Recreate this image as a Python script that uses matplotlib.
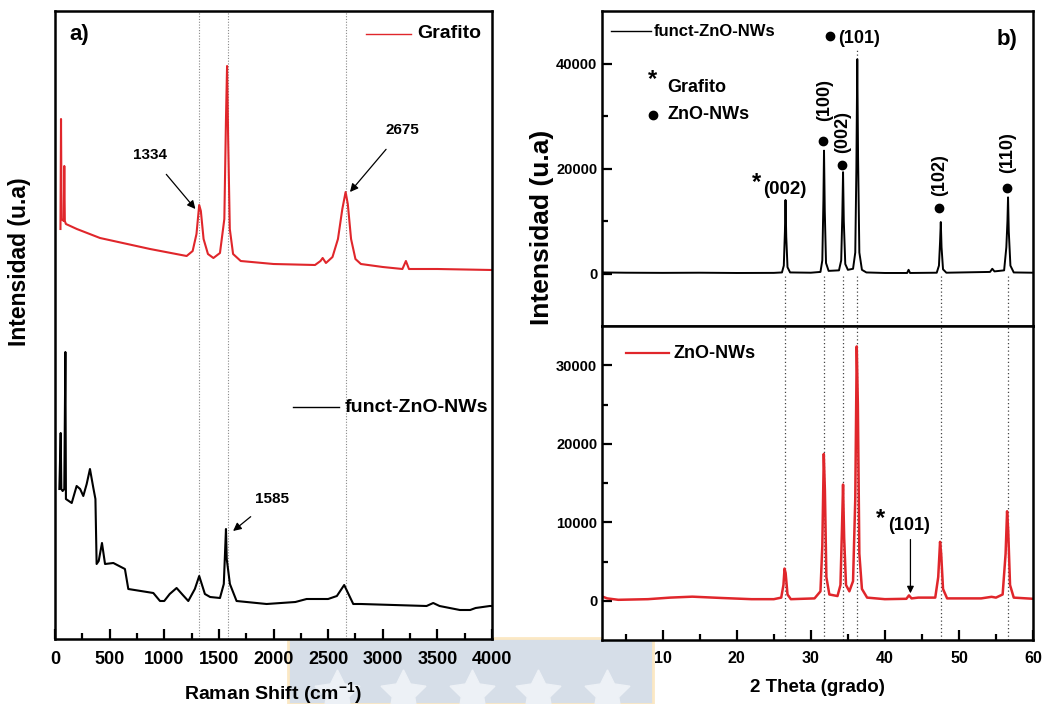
import matplotlib
matplotlib.use("Agg")
import matplotlib.pyplot as plt
from matplotlib.patches import Rectangle
from matplotlib.lines import Line2D

plt.rcParams['font.family'] = ['Liberation Sans', 'DejaVu Sans']
plt.rcParams['font.weight'] = 'bold'
plt.rcParams['mathtext.fontset'] = 'custom'
plt.rcParams['mathtext.rm'] = 'Liberation Sans:bold'
plt.rcParams['mathtext.bf'] = 'Liberation Sans:bold'
plt.rcParams['mathtext.default'] = 'bf'

# ---------------- Raman data (panel a) ----------------
raman_graf_x = [50, 55, 60, 80, 85, 90, 100, 200, 412, 870, 1205, 1260, 1295, 1320, 1335, 1360,
                1400, 1450, 1510, 1550, 1565, 1575, 1585, 1600, 1630, 1700, 2000, 2380, 2430,
                2450, 2480, 2540, 2590, 2630, 2660, 2680, 2710, 2750, 2800, 3000, 3180, 3212,
                3240, 3500, 4000]
raman_graf_y = [410, 520, 420, 418, 473, 418, 415, 410, 401, 390, 383, 388, 405, 434, 428, 400,
                385, 381, 386, 420, 520, 573, 500, 410, 385, 378, 375, 374, 378,
                381, 376, 382, 400, 430, 447, 435, 400, 380, 375, 372, 370, 378,
                370, 370, 369]

raman_func_x = [40, 52, 58, 70, 85, 95, 100, 153, 198, 230, 259, 290, 320, 351, 370, 381, 400,
                430, 458, 534, 640, 671, 900, 961, 1000, 1050, 1113, 1170, 1220, 1280, 1320,
                1372, 1420, 1510, 1545, 1565, 1572, 1601, 1662, 1937, 2200, 2303, 2500, 2580,
                2647, 2730, 2800, 3401, 3462, 3520, 3706, 3800, 3850, 3980, 4000]
raman_func_y = [150, 206, 150, 148, 150, 287, 140, 136, 153, 150, 143, 155, 170, 151, 140, 75, 78,
                96, 75, 76, 70, 50, 46, 38, 38, 45, 51, 44, 38, 50, 63,
                45, 42, 41, 55, 110, 80, 55, 38, 35, 37, 40, 40, 43,
                54, 35, 35, 33, 36, 33, 29, 29, 31, 33, 33]

raman_lines = [1320, 1583, 2660]

# ---------------- XRD data (panel b) ----------------
xrd_func_x = [1.8, 5, 10, 15, 20, 25, 26.1, 26.35, 26.5, 26.58, 26.68, 26.85, 27.2, 30, 31.3,
              31.55, 31.7, 31.78, 31.88, 32.05, 32.4, 33.8, 34.1, 34.25, 34.35, 34.45, 34.65,
              35.0, 35.7, 36.0, 36.15, 36.27, 36.38, 36.55, 36.9, 37.5, 40, 43.0, 43.2, 43.4,
              47.0, 47.3, 47.45, 47.55, 47.65, 47.85, 48.3, 54.2, 54.5, 54.8, 56.1, 56.4, 56.55,
              56.63, 56.73, 56.95, 57.4, 60]
xrd_func_y = [200, 150, 120, 150, 100, 120, 200, 1500, 8000, 14000, 7000, 1200, 200, 150, 300,
              2500, 14000, 23400, 12000, 2000, 500, 600, 2500, 11000, 19300, 10000, 1800,
              700, 900, 4000, 20000, 40800, 22000, 4000, 700, 200, 100, 100, 700, 100,
              150, 1500, 6000, 9800, 5000, 800, 150, 300, 900, 400, 600, 5000, 10000,
              14500, 8000, 1500, 200, 150]

xrd_zno_x = [1.8, 2.5, 4, 8, 11, 14, 18, 22, 25, 26.0, 26.3, 26.45, 26.6, 26.85, 27.3, 30.5,
             31.3, 31.55, 31.75, 31.9, 32.1, 32.5, 33.6, 34.0, 34.2, 34.35, 34.5, 34.75, 35.2,
             35.7, 36.0, 36.2, 36.35, 36.55, 36.9, 37.6, 40, 42.9, 43.25, 43.6, 44.5, 46.8,
             47.2, 47.45, 47.6, 47.85, 48.4, 53, 54.4, 55.0, 55.9, 56.3, 56.5, 56.65, 56.9,
             57.4, 60]
xrd_zno_y = [550, 300, 120, 200, 400, 520, 350, 200, 200, 400, 2000, 4100, 3500, 800, 200, 300,
             1200, 7000, 18700, 14000, 3000, 800, 600, 2000, 9000, 14800, 8000, 2000, 1200,
             2500, 13000, 32400, 25000, 6000, 1500, 400, 200, 250, 680, 300, 400, 400,
             3000, 7500, 6000, 1500, 300, 300, 500, 400, 800, 6000, 11400, 9000, 2000,
             400, 250]

xrd_lines = [26.5, 31.8, 34.4, 36.3, 47.6, 56.6]
zno_peak_labels = ['(100)', '(002)', '(102)', '(110)']
zno_label_x = [31.8, 34.35, 47.45, 56.55]
zno_dot_y = [25200, 20700, 12400, 16200]
zno_label_y = [33000, 27000, 18700, 23100]

W, H = 1047, 704
fig = plt.figure(figsize=(W / 100, H / 100), dpi=100)


def fx(px):
    return px / W


def fy(py):
    return 1 - py / H


def style_axes(ax):
    for s in ax.spines.values():
        s.set_linewidth(1.8)
    ax.tick_params(which='both', direction='in', width=1.6, labelsize=11)
    ax.tick_params(which='major', length=7)
    ax.tick_params(which='minor', length=4)


# ---------------- panel a ----------------
axa = fig.add_axes([fx(55), fy(639), fx(492 - 55), (639 - 11) / H])
axa.plot(raman_graf_x, raman_graf_y, color='#e0262b', lw=1.5)
axa.plot(raman_func_x, raman_func_y, color='black', lw=1.5)
for xv in raman_lines:
    axa.axvline(xv, color='#888888', lw=0.8, ls=(0, (1, 1.5)), zorder=0)
axa.set_xlim(0, 4000)
axa.set_ylim(0, 628)
axa.set_yticks([])
axa.set_xticks(range(0, 4001, 500))
axa.set_xticks(range(250, 4000, 500), minor=True)
style_axes(axa)
axa.tick_params(axis='x', labelsize=13, pad=9)
for lab in axa.get_xticklabels():
    lab.set_fontweight('bold')
axa.text(0.033, 0.963, 'a)', transform=axa.transAxes, fontsize=16, fontweight='bold',
         va='center', ha='left')
# legends
axa.plot([2850, 3260], [605, 605], color='#e0262b', lw=1.0)
axa.text(3320, 605, 'Grafito', fontsize=14, fontweight='bold', va='center')
axa.plot([2180, 2600], [232, 232], color='black', lw=1.0)
axa.text(2650, 232, 'funct-ZnO-NWs', fontsize=14, fontweight='bold', va='center')
# annotations
arrow = dict(arrowstyle='-|>', color='black', lw=0.9, mutation_scale=12)
axa.annotate('1334', xy=(1285, 430), xytext=(870, 484), fontsize=11, fontweight='bold',
             ha='center', va='center', arrowprops=dict(arrow, shrinkA=9, shrinkB=0))
axa.annotate('2675', xy=(2700, 447), xytext=(3180, 509), fontsize=11, fontweight='bold',
             ha='center', va='center', arrowprops=dict(arrow, shrinkA=9, shrinkB=0))
axa.annotate('1585', xy=(1630, 108), xytext=(1990, 140), fontsize=11, fontweight='bold',
             ha='center', va='center', arrowprops=dict(arrow, shrinkA=9, shrinkB=0))
fig.text(fx(20), fy(262), 'Intensidad (u.a)', rotation=90, fontsize=16.5, fontweight='bold',
         ha='center', va='center')
fig.text(fx(273), fy(693), r'Raman Shift (cm$^{-1}$)', fontsize=14, fontweight='bold',
         ha='center', va='center')

# ---------------- panel b ----------------
x0, x1 = 602, 1033
axt = fig.add_axes([fx(x0), fy(326), fx(x1 - x0), (326 - 11) / H])
axb = fig.add_axes([fx(x0), fy(640), fx(x1 - x0), (640 - 326) / H], sharex=axt)

axt.plot(xrd_func_x, xrd_func_y, color='black', lw=1.4)
axb.plot(xrd_zno_x, xrd_zno_y, color='#e0262b', lw=1.8)

for xv in xrd_lines:
    axt.vlines(xv, -10000, 0, color='#444444', lw=0.9, ls=(0, (1, 2)), zorder=0)
    axb.axvline(xv, color='#444444', lw=0.9, ls=(0, (1, 2)), zorder=0)
axt.vlines(36.3, 40800, 42500, color='#444444', lw=0.9, ls=(0, (1, 2)), zorder=0)

axt.set_xlim(1.8, 60)
axt.set_ylim(-10000, 50000)
axb.set_ylim(-5000, 35000)
axt.set_yticks([0, 20000, 40000])
axt.set_yticks([10000, 30000], minor=True)
axb.set_yticks([0, 10000, 20000, 30000])
axb.set_yticks([5000, 15000, 25000], minor=True)
axb.set_xticks([10, 20, 30, 40, 50, 60])
axb.set_xticks([5, 15, 25, 35, 45, 55], minor=True)
for ax in (axt, axb):
    style_axes(ax)
axt.tick_params(axis='x', which='both', bottom=False, labelbottom=False)
axt.tick_params(axis='y', labelsize=10.5)
axb.tick_params(axis='y', labelsize=10.5)
axb.tick_params(axis='x', labelsize=11.5, pad=8)
for ax in (axt, axb):
    for lab in ax.get_xticklabels() + ax.get_yticklabels():
        lab.set_fontweight('bold')

# top annotations
axt.plot([2.95, 8.4], [46100, 46100], color='black', lw=1.0)
axt.text(8.8, 46100, 'funct-ZnO-NWs', fontsize=12, fontweight='bold', va='center')
axt.text(0.965, 0.911, 'b)', transform=axt.transAxes, fontsize=16, fontweight='bold',
         ha='right', va='center')
axt.text(8.65, 37000, '*', fontsize=17, fontweight='bold', ha='center', va='center')
axt.text(10.6, 35400, 'Grafito', fontsize=13, fontweight='bold', va='center')
axt.plot([8.65], [30200], 'o', color='black', ms=6)
axt.text(10.6, 30200, 'ZnO-NWs', fontsize=13, fontweight='bold', va='center')
axt.plot([32.65], [45200], 'o', color='black', ms=6)
axt.text(33.65, 44800, '(101)', fontsize=13, fontweight='bold', va='center')
axt.text(22.65, 17300, '*', fontsize=17, fontweight='bold', ha='center', va='center')
axt.text(26.45, 16000, '(002)', fontsize=13.5, fontweight='bold', ha='center', va='center')
for lx, dy, ly, lab in zip(zno_label_x, zno_dot_y, zno_label_y, zno_peak_labels):
    axt.plot([lx - 0.1], [dy], 'o', color='black', ms=6)
    axt.text(lx, ly, lab, rotation=90, fontsize=13, fontweight='bold', ha='center', va='center')

# bottom annotations
axb.plot([5.05, 10.9], [31500, 31500], color='#e0262b', lw=1.6)
axb.text(11.4, 31500, 'ZnO-NWs', fontsize=13, fontweight='bold', va='center')
axb.text(39.4, 10500, '*', fontsize=17, fontweight='bold', ha='center', va='center')
axb.text(43.3, 9600, '(101)', fontsize=13, fontweight='bold', ha='center', va='center')
axb.annotate('', xy=(43.45, 950), xytext=(43.45, 7800),
             arrowprops=dict(arrowstyle='-|>', color='black', lw=0.9, mutation_scale=10,
                             shrinkA=0, shrinkB=0))

fig.text(fx(542), fy(227), 'Intensidad (u.a)', rotation=90, fontsize=19, fontweight='bold',
         ha='center', va='center')
fig.text(fx(817), fy(688), '2 Theta (grado)', fontsize=13.5, fontweight='bold',
         ha='center', va='center')

# watermark box at bottom centre
fig.add_artist(Rectangle((fx(288), 0), fx(653 - 288), fy(638), transform=fig.transFigure,
                         facecolor='#d6dee8', edgecolor='#fbe8c4', lw=2, zorder=-5))
for sx in [337, 403, 472, 538, 607]:
    fig.add_artist(Line2D([fx(sx)], [fy(693)], transform=fig.transFigure, marker=(5, 1, 0),
                          ms=34, color='#edf1f6', lw=0, zorder=-4))

fig.savefig('out.png', dpi=100)
